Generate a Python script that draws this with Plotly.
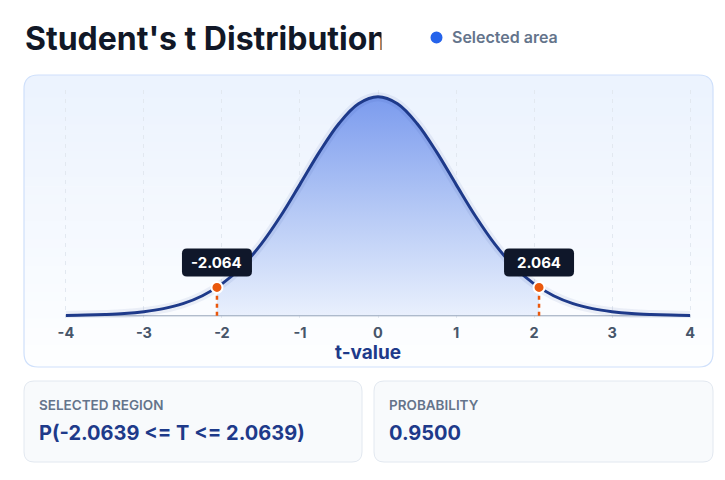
import plotly.graph_objects as go

# t-distribution (df = 24), step 0.25
t_values = [-4.0, -3.75, -3.5, -3.25, -3.0, -2.75, -2.5, -2.25, -2.0, -1.75, -1.5,
            -1.25, -1.0, -0.75, -0.5, -0.25, 0.0, 0.25, 0.5, 0.75, 1.0, 1.25, 1.5,
            1.75, 2.0, 2.25, 2.5, 2.75, 3.0, 3.25, 3.5, 3.75, 4.0]
density = [0.0007, 0.0012, 0.0023, 0.0041, 0.0074, 0.0129, 0.0219, 0.0362, 0.0576,
           0.0882, 0.1290, 0.1798, 0.2375, 0.2961, 0.3475, 0.3830, 0.3956, 0.3830,
           0.3475, 0.2961, 0.2375, 0.1798, 0.1290, 0.0882, 0.0576, 0.0362, 0.0219,
           0.0129, 0.0074, 0.0041, 0.0023, 0.0012, 0.0007]

crit_t = [-2.064, 2.064]
crit_density = [0.0513, 0.0513]
crit_labels = ["-2.064", "2.064"]

tick_vals = [-4, -3, -2, -1, 0, 1, 2, 3, 4]
tick_text = ["-4", "-3", "-2", "-1", "0", "1", "2", "3", "4"]

region_text = "P(-2.0639 <= T <= 2.0639)"
probability_text = "0.9500"

# selected area = curve between the two critical values
sel_t = [crit_t[0]] + [t for t in t_values if crit_t[0] < t < crit_t[1]] + [crit_t[1]]
sel_d = [crit_density[0]] + [d for t, d in zip(t_values, density) if crit_t[0] < t < crit_t[1]] + [crit_density[1]]

# page has an 8px body margin, so the figure is a bit smaller than the window
OFF = 8
W, H = 717, 472
ML, MR, MT, MB = 54, 31, 82, 162
PW, PH = W - ML - MR, H - MT - MB

FONT = "Inter"
NAVY = "#1e3a8a"
ORANGE = "#ea580c"


def px(x):
    # page pixel -> paper x
    return (x - OFF - ML) / PW


def py(y):
    # page pixel -> paper y
    return (H - MB - (y - OFF)) / PH


def rounded(x0, y0, x1, y1, r, top=True, bottom=True):
    rt = r if top else 0
    rb = r if bottom else 0
    pts = [
        f"M {px(x0 + rt)},{py(y0)}",
        f"L {px(x1 - rt)},{py(y0)}",
        f"Q {px(x1)},{py(y0)} {px(x1)},{py(y0 + rt)}",
        f"L {px(x1)},{py(y1 - rb)}",
        f"Q {px(x1)},{py(y1)} {px(x1 - rb)},{py(y1)}",
        f"L {px(x0 + rb)},{py(y1)}",
        f"Q {px(x0)},{py(y1)} {px(x0)},{py(y1 - rb)}",
        f"L {px(x0)},{py(y0 + rt)}",
        f"Q {px(x0)},{py(y0)} {px(x0 + rt)},{py(y0)}",
        "Z",
    ]
    return " ".join(pts)


def mix(c0, c1, f):
    return "rgb(%d,%d,%d)" % tuple(round(a + (b - a) * f) for a, b in zip(c0, c1))


shapes = []
# main card with vertical gradient
top_col, bot_col = (236, 243, 254), (253, 254, 255)
shapes.append(dict(type="path", xref="paper", yref="paper", layer="below",
                   path=rounded(24, 75, 713, 367, 14), fillcolor=mix(top_col, bot_col, 1),
                   line=dict(width=0)))
shapes.append(dict(type="path", xref="paper", yref="paper", layer="below",
                   path=rounded(24, 75, 713, 90, 14, bottom=False), fillcolor=mix(top_col, bot_col, 0),
                   line=dict(width=0)))
n = 30
y_a, y_b = 89, 354
for i in range(n):
    ya = y_a + (y_b - y_a) * i / n
    yb = y_a + (y_b - y_a) * (i + 1) / n + 0.6
    shapes.append(dict(type="rect", xref="paper", yref="paper", layer="below",
                       x0=px(24), x1=px(713), y0=py(ya), y1=py(yb),
                       fillcolor=mix(top_col, bot_col, (i + 0.5) / n), line=dict(width=0)))
shapes.append(dict(type="path", xref="paper", yref="paper", layer="below",
                   path=rounded(24, 75, 713, 367, 14), fillcolor="rgba(0,0,0,0)",
                   line=dict(color="#cfe0fb", width=1.2)))

# bottom info cards
for x0, x1 in [(24, 362), (374, 713)]:
    shapes.append(dict(type="path", xref="paper", yref="paper", layer="below",
                       path=rounded(x0, 381, x1, 462, 10), fillcolor="#f8fafc",
                       line=dict(color="#e2e8f0", width=1)))

# legend dot
shapes.append(dict(type="circle", xref="paper", yref="paper", layer="above",
                   x0=px(430.5), x1=px(442.5), y0=py(31.5), y1=py(43.5),
                   fillcolor="#2563eb", line=dict(width=0)))

# tooltip boxes anchored at the critical points
for t, d in zip(crit_t, crit_density):
    shapes.append(dict(type="path", xref="x", yref="y", layer="above",
                       xsizemode="pixel", ysizemode="pixel", xanchor=t, yanchor=d,
                       path="M -30,39 L 30,39 Q 35,39 35,34 L 35,16 Q 35,11 30,11 "
                            "L -30,11 Q -35,11 -35,16 L -35,34 Q -35,39 -30,39 Z",
                       fillcolor="#0f172a", line=dict(width=0)))

fig = go.Figure()

fig.add_trace(go.Scatter(
    x=sel_t, y=sel_d, mode="lines", line=dict(width=0, shape="spline"),
    fill="tozeroy",
    fillgradient=dict(type="vertical", start=0, stop=max(density),
                      colorscale=[[0, "#e9f0fd"], [0.5, "#b3c7f5"], [1, "#7b9bee"]]),
    hoverinfo="skip", showlegend=False))

fig.add_trace(go.Scatter(
    x=[t_values[0], t_values[-1]], y=[0, 0], mode="lines",
    line=dict(color="#94a3b8", width=1), hoverinfo="skip", showlegend=False))

fig.add_trace(go.Scatter(
    x=t_values, y=density, mode="lines",
    line=dict(color="rgba(30,58,138,0.07)", width=9, shape="spline"),
    hoverinfo="skip", showlegend=False))

fig.add_trace(go.Scatter(
    x=t_values, y=density, mode="lines",
    line=dict(color=NAVY, width=3, shape="spline"),
    hoverinfo="skip", showlegend=False))

for t, d in zip(crit_t, crit_density):
    fig.add_trace(go.Scatter(
        x=[t, t], y=[0, d], mode="lines",
        line=dict(color=ORANGE, width=2.5, dash="4px,4px"),
        hoverinfo="skip", showlegend=False))

fig.add_trace(go.Scatter(
    x=crit_t, y=crit_density, mode="markers",
    marker=dict(color=ORANGE, size=11, line=dict(color="white", width=2)),
    hoverinfo="skip", showlegend=False))

annotations = []
for t, d, lab in zip(crit_t, crit_density, crit_labels):
    annotations.append(dict(x=t, y=d, xref="x", yref="y", text=lab, showarrow=False,
                            yshift=25, font=dict(family=FONT, size=15, color="white", weight=700)))

annotations += [
    dict(x=px(23), y=py(38.5), xref="paper", yref="paper", xanchor="left", yanchor="middle",
         text="Student's t Distribution", showarrow=False,
         font=dict(family=FONT, size=32, color="#111827", weight=700)),
    dict(x=px(381), y=py(38), xref="paper", yref="paper", xanchor="left", yanchor="middle",
         text=" ", showarrow=False, width=24, height=46, bgcolor="white", borderpad=0),
    dict(x=px(450), y=py(37.5), xref="paper", yref="paper", xanchor="left", yanchor="middle",
         text="Selected area", showarrow=False,
         font=dict(family=FONT, size=16, color="#64748b", weight=600)),
    dict(x=px(368), y=py(352), xref="paper", yref="paper", xanchor="center", yanchor="middle",
         text="t-value", showarrow=False,
         font=dict(family=FONT, size=19, color=NAVY, weight=700)),
    dict(x=px(37), y=py(404.5), xref="paper", yref="paper", xanchor="left", yanchor="middle",
         text="SELECTED REGION", showarrow=False,
         font=dict(family=FONT, size=13.5, color="#64748b", weight=600)),
    dict(x=px(37), y=py(432.5), xref="paper", yref="paper", xanchor="left", yanchor="middle",
         text=region_text, showarrow=False,
         font=dict(family=FONT, size=20, color=NAVY, weight=700)),
    dict(x=px(387), y=py(404.5), xref="paper", yref="paper", xanchor="left", yanchor="middle",
         text="PROBABILITY", showarrow=False,
         font=dict(family=FONT, size=13.5, color="#64748b", weight=600)),
    dict(x=px(387), y=py(432.5), xref="paper", yref="paper", xanchor="left", yanchor="middle",
         text=probability_text, showarrow=False,
         font=dict(family=FONT, size=20, color=NAVY, weight=700)),
]

fig.update_layout(
    width=W, height=H,
    margin=dict(l=ML, r=MR, t=MT, b=MB),
    paper_bgcolor="white", plot_bgcolor="rgba(0,0,0,0)",
    shapes=shapes, annotations=annotations,
    showlegend=False,
)

fig.update_xaxes(
    range=[-4.05, 4.05], tickvals=tick_vals, ticktext=tick_text,
    showgrid=True, gridcolor="#e2e8f0", griddash="4px,5px", gridwidth=1,
    zeroline=False, showline=False,
    ticks="outside", ticklen=2, tickcolor="rgba(0,0,0,0)",
    tickfont=dict(family=FONT, size=14.5, color="#475569", weight=700),
    fixedrange=True,
)
fig.update_yaxes(range=[-0.004, 0.408], visible=False, fixedrange=True)

fig.write_html("out.html")
